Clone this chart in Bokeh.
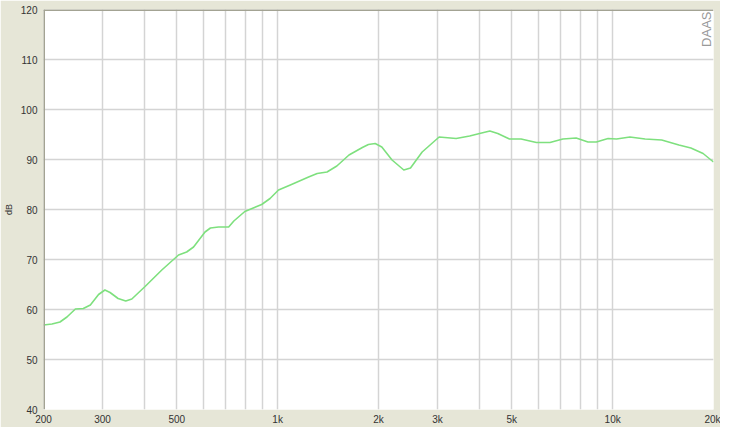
from bokeh.plotting import figure
from bokeh.models import Range1d, FixedTicker, Span, Label
from bokeh.embed import file_html
from bokeh.resources import INLINE
import math

# ---- data ----
freq_hz = [200, 212, 224, 235, 249, 263, 276, 292, 305, 316, 334, 352, 367, 402, 451,
           506, 535, 561, 607, 630, 666, 714, 740, 798, 896, 949, 1006, 1091, 1237,
           1312, 1404, 1502, 1633, 1790, 1866, 1955, 2046, 2195, 2380, 2492, 2700,
           3034, 3410, 3742, 4007, 4300, 4540, 4920, 5330, 5920, 6500, 7100, 7780,
           8440, 8940, 9690, 10270, 11260, 12500, 14010, 15770, 17120, 18620, 20000]
level_db = [56.9, 57.1, 57.5, 58.5, 60.1, 60.2, 60.9, 63.0, 63.9, 63.4, 62.2, 61.7,
            62.1, 64.6, 67.9, 70.9, 71.5, 72.5, 75.5, 76.3, 76.5, 76.5, 77.7, 79.6,
            81.0, 82.2, 83.9, 84.9, 86.5, 87.2, 87.5, 88.7, 90.9, 92.4, 93.0, 93.2,
            92.5, 89.9, 87.9, 88.3, 91.5, 94.5, 94.2, 94.7, 95.2, 95.7, 95.2, 94.1,
            94.1, 93.4, 93.4, 94.1, 94.3, 93.5, 93.5, 94.2, 94.1, 94.5, 94.1, 93.9,
            92.9, 92.3, 91.2, 89.5]

x_label_ticks = [200, 300, 500, 1000, 2000, 3000, 5000, 10000, 20000]
x_label_texts = ["200", "300", "500", "1k", "2k", "3k", "5k", "10k", "20k"]
x_grid_ticks = [200, 300, 400, 500, 600, 700, 800, 900, 1000, 2000, 3000, 4000,
                5000, 6000, 7000, 8000, 9000, 10000, 20000]
y_ticks = [40, 50, 60, 70, 80, 90, 100, 110, 120]
y_title = "dB"
brand = "DAAS"

BG = "#e6e6d7"
FONT = "Liberation Sans"

p = figure(frame_width=670, frame_height=400, x_axis_type="log",
           x_range=Range1d(200, 20000), y_range=Range1d(40, 120),
           output_backend="svg", toolbar_location=None,
           min_border_left=37, min_border_right=7, min_border_top=9, min_border_bottom=15)
p.background_fill_color = "white"
p.border_fill_color = BG
p.outline_line_color = None

# grid
p.xgrid.ticker = FixedTicker(ticks=x_grid_ticks)
p.ygrid.ticker = FixedTicker(ticks=y_ticks)
for g in (p.xgrid, p.ygrid):
    g.grid_line_color = "#d4d4d4"
    g.grid_line_width = 1.5

# x axis
xa = p.xaxis[0]
xa.ticker = FixedTicker(ticks=x_label_ticks)
xa.major_label_overrides = {t: s for t, s in zip(x_label_ticks, x_label_texts)}
xa.axis_line_color = None
xa.major_tick_line_color = None
xa.minor_tick_line_color = None
xa.major_tick_in = 0
xa.major_tick_out = 0
xa.major_label_standoff = 4
xa.major_label_text_font = FONT
xa.major_label_text_font_size = "10px"
xa.major_label_text_color = "#333333"

# y axis
ya = p.yaxis[0]
ya.ticker = FixedTicker(ticks=y_ticks)
ya.axis_line_color = None
ya.major_tick_line_color = None
ya.minor_tick_line_color = None
ya.major_tick_in = 0
ya.major_tick_out = 0
ya.major_label_standoff = 6
ya.major_label_text_font = FONT
ya.major_label_text_font_size = "10px"
ya.major_label_text_color = "#333333"
ya.axis_label = y_title
ya.axis_label_text_font = FONT
ya.axis_label_text_font_size = "9px"
ya.axis_label_text_font_style = "normal"
ya.axis_label_text_color = "#333333"
ya.axis_label_standoff = 4

# darker left / top frame edges
p.add_layout(Span(location=200, dimension="height", line_color="#a3a393", line_width=3))
p.add_layout(Span(location=120, dimension="width", line_color="#a3a393", line_width=3))

# response curve
p.line(freq_hz, level_db, line_color="#7ee07e", line_width=1.6, line_join="round")

# brand mark
p.add_layout(Label(x=20000, y=119.6, text=brand, angle=math.pi / 2,
                   text_align="right", text_baseline="bottom",
                   text_font=FONT, text_font_size="13px", text_color="#999999"))

open("out.html", "w").write(file_html(p, INLINE))
